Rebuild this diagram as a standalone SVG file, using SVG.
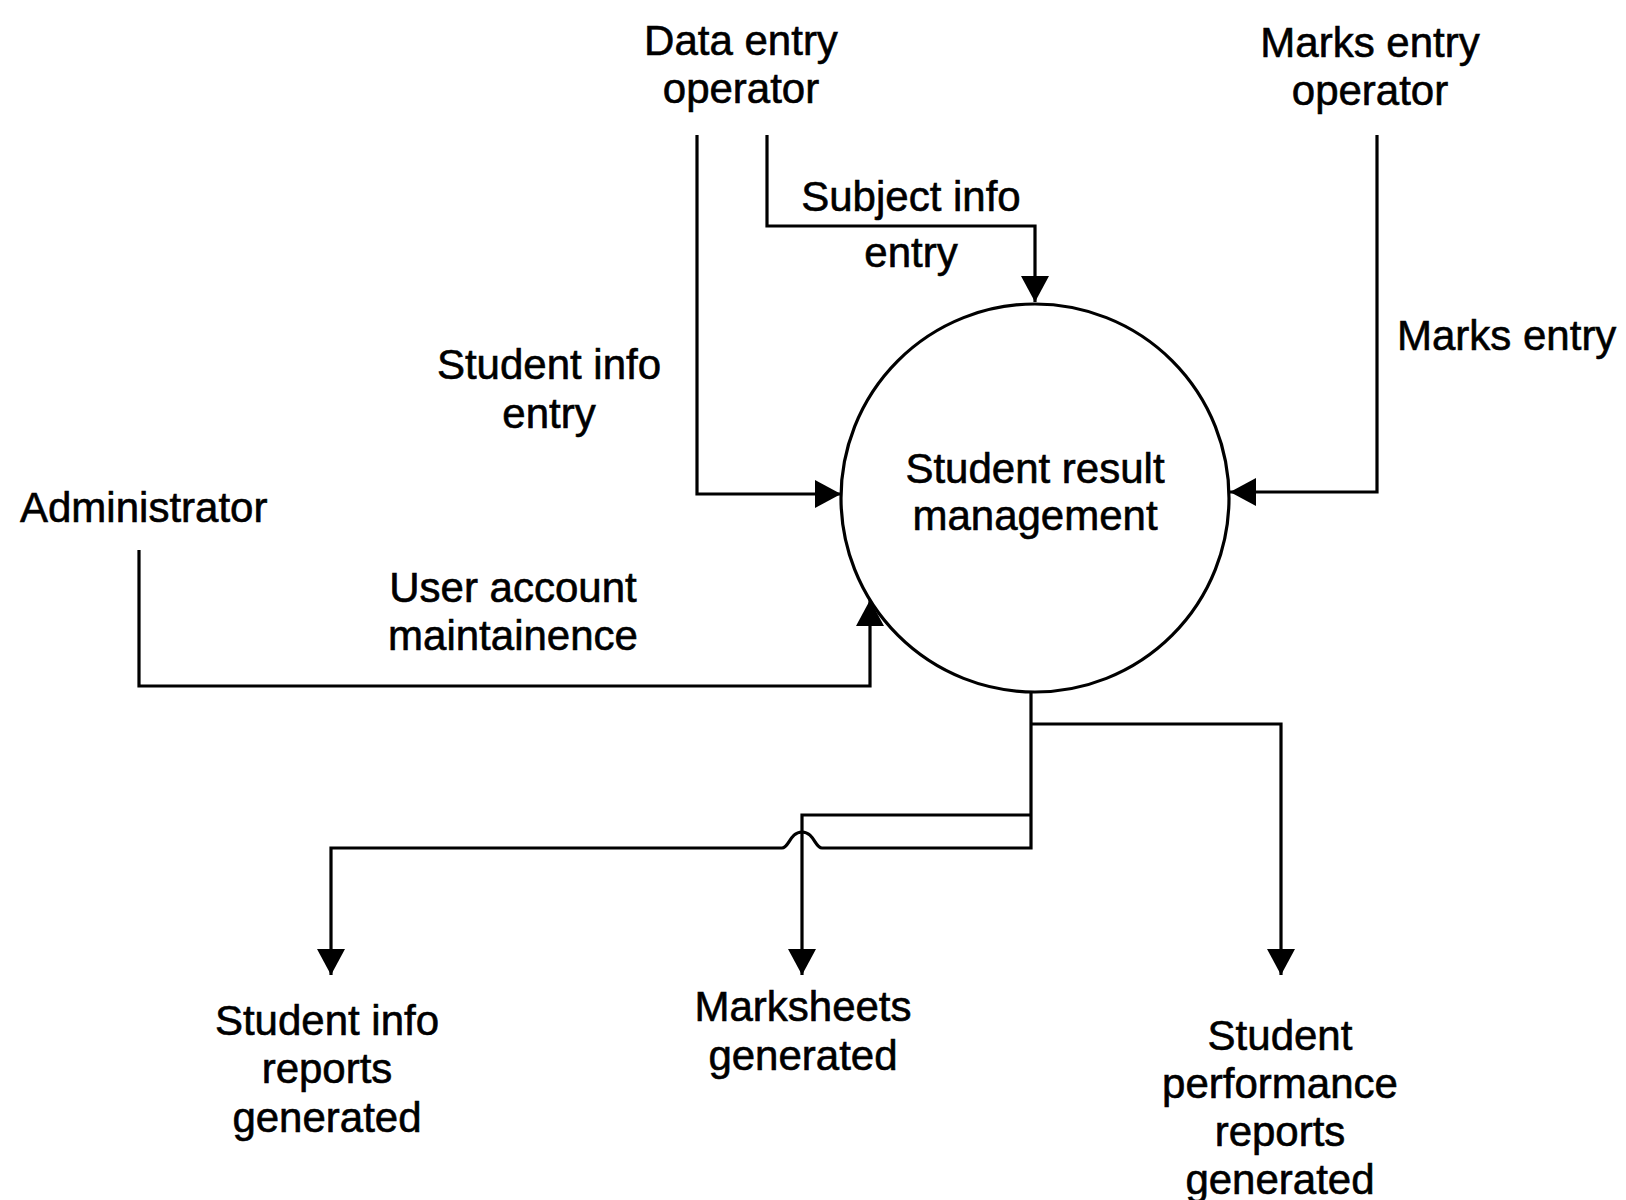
<svg xmlns="http://www.w3.org/2000/svg" width="1626" height="1200" viewBox="0 0 1626 1200">
<style>
  text { font-family: "Liberation Sans", Arial, Helvetica, sans-serif; font-size: 42px; fill: #000; stroke: #000; stroke-width: 0.6; }
  .c { text-anchor: middle; }
  .flow { fill: none; stroke: #000; stroke-width: 3.2; stroke-linejoin: miter; }
  .proc { fill: #fff; stroke: #000; stroke-width: 3.2; }
</style>
<defs>
  <marker id="arrow" markerUnits="userSpaceOnUse" markerWidth="28" markerHeight="28" refX="26" refY="14" orient="auto">
    <path d="M0,0 L26,14 L0,28 Z" fill="#000"/>
  </marker>
</defs>
<rect width="1626" height="1200" fill="#fff"/>

<g id="connectors">
  <path class="flow" d="M697,135 V494 H841" marker-end="url(#arrow)"/>
  <path class="flow" d="M767,135 V226 H1035 V302" marker-end="url(#arrow)"/>
  <path class="flow" d="M1377,135 V492 H1230" marker-end="url(#arrow)"/>
  <path class="flow" d="M139,550 V686 H870 V600" marker-end="url(#arrow)"/>
  <path class="flow" d="M1031,693 V848 H822 C815,848 814,832 802,832 C790,832 789,848 782,848 H331 V975" marker-end="url(#arrow)"/>
  <path class="flow" d="M1031,815 H802 V975" marker-end="url(#arrow)"/>
  <path class="flow" d="M1031,724 H1281 V975" marker-end="url(#arrow)"/>
  <g id="flow-labels">
    <text class="c" x="911" y="211">Subject info</text>
    <text class="c" x="911" y="267">entry</text>
    <text class="c" x="549" y="379">Student info</text>
    <text class="c" x="549" y="428">entry</text>
    <text x="1397" y="350">Marks entry</text>
    <text class="c" x="513" y="602">User account</text>
    <text class="c" x="513" y="650">maintainence</text>
  </g>
</g>

<g id="process">
  <circle class="proc" cx="1035" cy="498" r="194"/>
  <text class="c" x="1035" y="483">Student result</text>
  <text class="c" x="1035" y="530">management</text>
</g>

<g id="data-entry-operator">
  <text class="c" x="741" y="55">Data entry</text>
  <text class="c" x="741" y="103">operator</text>
</g>

<g id="marks-entry-operator">
  <text class="c" x="1370" y="57">Marks entry</text>
  <text class="c" x="1370" y="105">operator</text>
</g>

<g id="administrator">
  <text x="20" y="522">Administrator</text>
</g>

<g id="student-info-reports">
  <text class="c" x="327" y="1035">Student info</text>
  <text class="c" x="327" y="1083">reports</text>
  <text class="c" x="327" y="1132">generated</text>
</g>

<g id="marksheets">
  <text class="c" x="803" y="1021">Marksheets</text>
  <text class="c" x="803" y="1070">generated</text>
</g>

<g id="student-performance-reports">
  <text class="c" x="1280" y="1050">Student</text>
  <text class="c" x="1280" y="1098">performance</text>
  <text class="c" x="1280" y="1146">reports</text>
  <text class="c" x="1280" y="1194">generated</text>
</g>
</svg>
